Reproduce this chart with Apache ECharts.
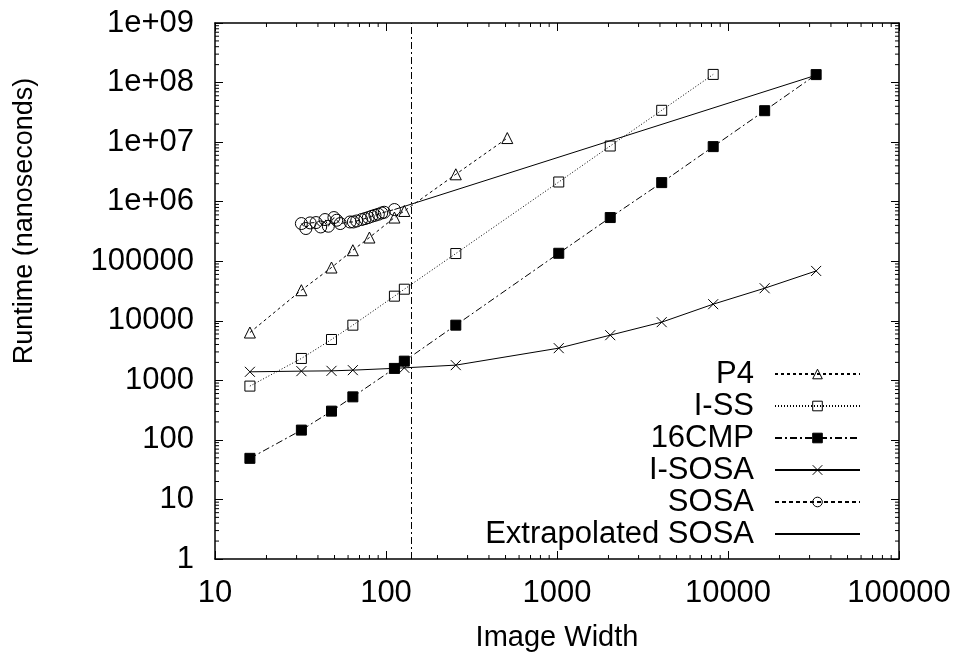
<!DOCTYPE html>
<html>
<head>
<meta charset="utf-8">
<script src="https://cdn.jsdelivr.net/npm/echarts@6/dist/echarts.min.js"></script>
<style>
  html, body { margin: 0; padding: 0; background: #fff; }
  #chart { width: 963px; height: 660px; }
</style>
</head>
<body>
<div id="chart"></div>
<script>
// Runtime vs. image width (log-log)
const p4Width      = [16, 32, 48, 64, 80, 112, 128, 256, 512];
const p4Runtime    = [6350, 32600, 78400, 153000, 250000, 541000, 698000, 2880000, 11700000];

const issWidth     = [16, 32, 48, 64, 112, 128, 256, 1024, 2048, 4096, 8192];
const issRuntime   = [800, 2330, 4850, 8440, 25900, 33900, 134600, 2140000, 8600000, 34200000, 137000000];

const cmpWidth     = [16, 32, 48, 64, 112, 128, 256, 1024, 2048, 4096, 8192, 16384, 32768];
const cmpRuntime   = [49, 146, 304, 528, 1585, 2100, 8440, 136000, 541000, 2090000, 8400000, 33700000, 136000000];

const isosaWidth   = [16, 32, 48, 64, 112, 128, 256, 1024, 2048, 4096, 8192, 16384, 32768];
const isosaRuntime = [1390, 1427, 1443, 1483, 1590, 1621, 1800, 3470, 5730, 9480, 19000, 35200, 68700];

const sosaWidth    = [32, 34, 36, 39, 41.5, 44, 46, 49.6, 51.5, 54, 61.6, 64.4, 67.4, 72, 75.4, 78.8, 82.5, 86.2, 90.2, 94.4, 97.7, 112];
const sosaRuntime  = [429000, 354000, 440000, 446000, 376000, 501000, 387000, 541000, 488000, 429000, 456000, 456000, 474000, 501000, 520000, 541000, 569000, 591000, 615000, 646000, 664000, 738000];

const extWidth     = [112, 32768];
const extRuntime   = [738000, 133000000];

const cutoffWidth  = 140;

const xTickValues  = [10, 100, 1000, 10000, 100000];
const yTickValues  = [1, 10, 100, 1000, 10000, 100000, 1e6, 1e7, 1e8, 1e9];
const minorSteps   = [2, 3, 4, 5, 6, 7, 8, 9];

const FONT = 'Liberation Sans';
const INK = '#000';

function pairs(xs, ys) { return xs.map((x, i) => [x, ys[i]]); }

function yLabel(v) {
  const e = Math.round(Math.log10(v));
  if (e >= 6) return '1e+' + (e < 10 ? '0' : '') + e;
  return String(Math.round(v));
}

// minor tick values between decades
const xMinor = [];
for (let i = 0; i < xTickValues.length - 1; i++) minorSteps.forEach(m => xMinor.push([xTickValues[i] * m, 1]));
const yMinor = [];
for (let i = 0; i < yTickValues.length - 1; i++) minorSteps.forEach(m => yMinor.push([10, yTickValues[i] * m]));

const MINOR_LEN = 4;
function minorX(params, api) {
  const cs = params.coordSys;
  const x = api.coord([api.value(0), 1])[0];
  const st = { stroke: INK, lineWidth: 1 };
  return { type: 'group', children: [
    { type: 'line', shape: { x1: x, y1: cs.y + cs.height, x2: x, y2: cs.y + cs.height - MINOR_LEN }, style: st },
    { type: 'line', shape: { x1: x, y1: cs.y, x2: x, y2: cs.y + MINOR_LEN }, style: st }
  ]};
}
function minorY(params, api) {
  const cs = params.coordSys;
  const y = api.coord([10, api.value(1)])[1];
  const st = { stroke: INK, lineWidth: 1 };
  return { type: 'group', children: [
    { type: 'line', shape: { x1: cs.x, y1: y, x2: cs.x + MINOR_LEN, y2: y }, style: st },
    { type: 'line', shape: { x1: cs.x + cs.width, y1: y, x2: cs.x + cs.width - MINOR_LEN, y2: y }, style: st }
  ]};
}

const tri = 'triangle';
const cross = 'path://M0,0L10,10M10,0L0,10';

function lineSeries(name, data, dash, symbol, size, fill) {
  return {
    name, type: 'line', data, symbol, symbolSize: size,
    showSymbol: true,
    lineStyle: { color: INK, width: 1, type: dash },
    itemStyle: { color: fill, borderColor: INK, borderWidth: 1 },
    emphasis: { disabled: true },
    animation: false, z: 3
  };
}

const chart = echarts.init(document.getElementById('chart'), null, { renderer: 'canvas' });

const axisCommon = {
  type: 'log', logBase: 10,
  axisLine: { show: true, lineStyle: { color: INK, width: 1.5 } },
  axisTick: { show: true, inside: true, length: 8, lineStyle: { color: INK, width: 1 } },
  splitLine: { show: false },
  minorTick: { show: false },
  axisLabel: { color: INK, fontFamily: FONT, fontSize: 31 }
};

chart.setOption({
  animation: false,
  backgroundColor: '#fff',
  grid: { left: 215, top: 23, right: 64, bottom: 101, containLabel: false },
  xAxis: [
    Object.assign({}, axisCommon, {
      position: 'bottom', min: 10, max: 100000,
      axisLabel: Object.assign({}, axisCommon.axisLabel, { margin: 19, formatter: v => String(Math.round(v)) }),
      name: 'Image Width', nameLocation: 'middle', nameGap: 64,
      nameTextStyle: { color: INK, fontFamily: FONT, fontSize: 29 }
    }),
    Object.assign({}, axisCommon, { position: 'top', min: 10, max: 100000, axisLabel: { show: false } })
  ],
  yAxis: [
    Object.assign({}, axisCommon, {
      position: 'left', min: 1, max: 1e9, splitNumber: 9,
      axisLabel: Object.assign({}, axisCommon.axisLabel, { margin: 21, formatter: yLabel }),
      name: 'Runtime (nanoseconds)', nameLocation: 'middle', nameGap: 177, nameRotate: 90,
      nameTextStyle: { color: INK, fontFamily: FONT, fontSize: 27, padding: [0, 0, 0, 140] }
    }),
    Object.assign({}, axisCommon, { position: 'right', min: 1, max: 1e9, splitNumber: 9, axisLabel: { show: false } })
  ],
  legend: {
    orient: 'vertical', align: 'right', right: 102, top: 358, padding: 0,
    itemWidth: 85, itemHeight: 12, itemGap: 0,
    selectedMode: false,
    textStyle: { color: INK, fontFamily: FONT, fontSize: 31, lineHeight: 32, padding: [0, 16, 0, 0] },
    itemStyle: { borderWidth: 1 },
    data: ['P4', 'I-SS', '16CMP', 'I-SOSA', 'SOSA', 'Extrapolated SOSA']
  },
  series: [
    Object.assign(lineSeries('P4', pairs(p4Width, p4Runtime), [3, 3], tri, 11, 'rgba(0,0,0,0)'), {
      markLine: {
        silent: true, symbol: 'none', label: { show: false },
        lineStyle: { color: INK, width: 1, type: [7, 3, 2, 3] },
        data: [{ xAxis: cutoffWidth }]
      }
    }),
    lineSeries('I-SS', pairs(issWidth, issRuntime), [1, 2], 'rect', 10, 'rgba(0,0,0,0)'),
    lineSeries('16CMP', pairs(cmpWidth, cmpRuntime), [7, 3, 2, 3], 'rect', 10, INK),
    lineSeries('I-SOSA', pairs(isosaWidth, isosaRuntime), 'solid', cross, 10, 'rgba(0,0,0,0)'),
    lineSeries('SOSA', pairs(sosaWidth, sosaRuntime), [4, 3], 'circle', 12, 'rgba(0,0,0,0)'),
    {
      name: 'Extrapolated SOSA', type: 'line', data: pairs(extWidth, extRuntime),
      symbol: 'circle', showSymbol: false,
      lineStyle: { color: INK, width: 1, type: 'solid' },
      itemStyle: { color: 'rgba(0,0,0,0)', borderColor: 'rgba(0,0,0,0)', borderWidth: 0 },
      emphasis: { disabled: true }, animation: false, z: 3
    },
    { type: 'custom', name: 'xminor', data: xMinor, renderItem: minorX, silent: true, clip: false, z: 5 },
    { type: 'custom', name: 'yminor', data: yMinor, renderItem: minorY, silent: true, clip: false, z: 5 }
  ]
});
</script>
</body>
</html>
